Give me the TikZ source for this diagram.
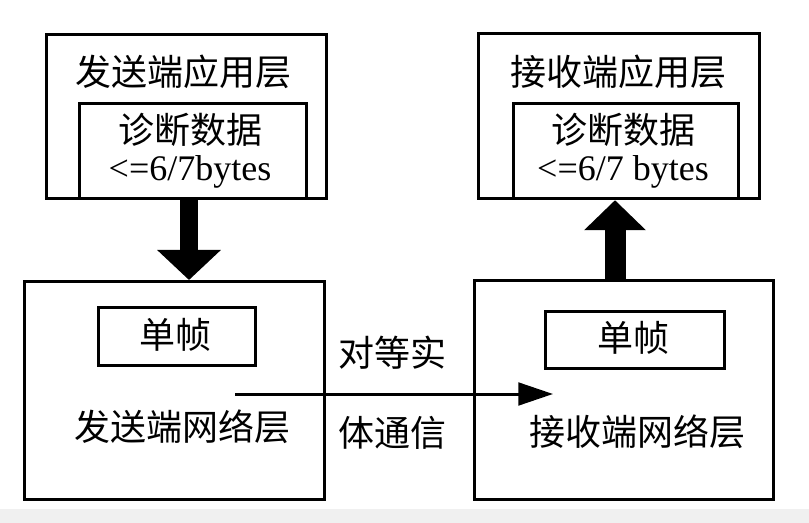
\documentclass[tikz,border=0pt]{standalone}
\usepackage{fontspec}
\setmainfont{Liberation Serif}
\newfontfamily\cjk{Noto Sans CJK SC}
\usetikzlibrary{arrows.meta}
\begin{document}
\begin{tikzpicture}[x=0.75pt,y=-0.75pt,
  layerbox/.style={draw=black, line width=2.4pt, inner sep=0pt, anchor=north west},
  framebox/.style={draw=black, line width=2.2pt, inner sep=0pt, anchor=north west},
  cjktext/.style={inner sep=0pt, font=\cjk\fontsize{27}{32}\selectfont},
  lattext/.style={inner sep=0pt, font=\fontsize{27}{32}\selectfont},
  fatarrow/.style={line width=#1, draw=black},
]
% canvas
\useasboundingbox (0,0) rectangle (809,523);
\fill[white] (0,0) rectangle (809,523);
\fill[black!6] (0,509) rectangle (809,523);

% application layers
\node[layerbox, minimum width=210pt, minimum height=123pt] (sapp) at (45,33) {};
\node[layerbox, minimum width=210.75pt, minimum height=123.75pt] (rapp) at (477,32) {};
\node[framebox, minimum width=170.25pt, minimum height=71.25pt] (sdata) at (78,102) {};
\node[framebox, minimum width=168.75pt, minimum height=71.25pt] (rdata) at (512,102) {};

% network layers
\node[layerbox, minimum width=225pt, minimum height=163.5pt] (snet) at (23,280) {};
\node[layerbox, minimum width=224.25pt, minimum height=164.25pt] (rnet) at (473,279) {};
\node[framebox, minimum width=117.75pt, minimum height=43.5pt] (sframe) at (97,306) {};
\node[framebox, minimum width=134.25pt, minimum height=42.75pt] (rframe) at (544,310) {};

% texts
\node[cjktext] (sapptxt) at (183,72) {发送端应用层};
\node[cjktext] (rapptxt) at (618,72) {接收端应用层};
\node[cjktext] (sdatatxt) at (190,130) {诊断数据};
\node[lattext] (slentxt) at (190,172) {<=6/7bytes};
\node[cjktext] (rdatatxt) at (623,130) {诊断数据};
\node[lattext] (rlentxt) at (623,172) {<=6/7 bytes};
\node[cjktext] (sframetxt) at (175,335) {单帧};
\node[cjktext] (rframetxt) at (633,338) {单帧};
\node[cjktext] (snettxt) at (182,427) {发送端网络层};
\node[cjktext] (rnettxt) at (637,432) {接收端网络层};
\node[cjktext] (peer1) at (392,353) {对等实};
\node[cjktext] (peer2) at (392,433) {体通信};

% vertical data flow
\coordinate (dn) at (189,0);
\coordinate (up) at (615,0);
\draw[fatarrow=13.5pt, -{Triangle[length=22.5pt,width=46.5pt]}]
  (dn |- sapp.south) -- (dn |- snet.north);
\draw[fatarrow=15.75pt, -{Triangle[length=22.5pt,width=45pt]}]
  (up |- rnet.north) -- (up |- rapp.south);

% peer-to-peer communication
\coordinate (pstart) at (235,394);
\coordinate (pend) at (553,394);
\draw[line width=2.25pt, -{Triangle[length=26pt,width=17pt]}] (pstart) -- (pend);
\end{tikzpicture}
\end{document}
